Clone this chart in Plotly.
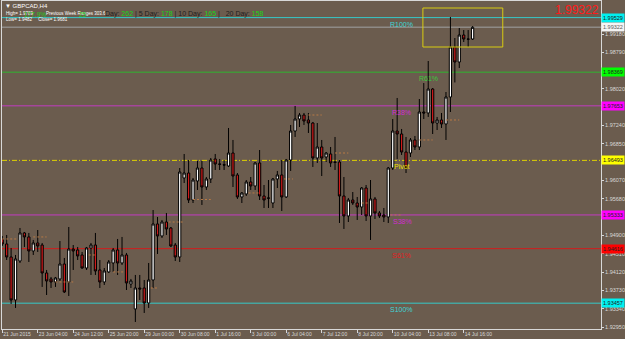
import plotly.graph_objects as go

# ---------------- data ----------------
bar_index = list(range(107))
open_ = [1.94822,1.94716,1.94439,1.93525,1.94354,1.94950,1.94865,1.94567,1.94737,1.94694,
         1.94099,1.93972,1.93908,1.93972,1.94290,1.93908,1.94609,1.94588,1.94482,1.94205,
         1.94631,1.94694,1.94163,1.93908,1.94121,1.94312,1.94588,1.94312,1.94482,1.93865,
         1.93334,1.93780,1.93780,1.93461,1.93950,1.95141,1.94886,1.95183,1.95056,1.94694,
         1.94439,1.96119,1.96225,1.95651,1.96055,1.96331,1.95927,1.96098,1.96523,1.96416,
         1.96400,1.96374,1.96650,1.96183,1.95715,1.95779,1.96034,1.95949,1.96438,1.95736,
         1.95694,1.95587,1.96098,1.96183,1.95715,1.96501,1.97118,1.97373,1.97458,1.97352,
         1.97288,1.96544,1.96778,1.96565,1.96629,1.96459,1.96459,1.95736,1.95311,1.95651,
         1.95587,1.95502,1.95906,1.95311,1.95673,1.95375,1.95332,1.95290,1.96331,1.97118,
         1.97054,1.96671,1.96650,1.96927,1.96778,1.97522,1.97501,1.98011,1.97288,1.97352,
         1.97267,1.97841,1.98904,1.98585,1.99159,1.99074,1.99074]
high = [1.94886,1.94907,1.94631,1.94482,1.95056,1.94971,1.94950,1.94801,1.95013,1.94737,
        1.94163,1.94014,1.94014,1.94779,1.94418,1.95077,1.94694,1.94652,1.94546,1.94652,
        1.94737,1.94950,1.94375,1.94205,1.94375,1.94631,1.94822,1.94865,1.94525,1.93972,
        1.94057,1.94057,1.93950,1.94312,1.95438,1.95290,1.95226,1.95375,1.95077,1.94737,
        1.96331,1.96629,1.96501,1.96119,1.96480,1.96480,1.96140,1.96544,1.96629,1.96523,
        1.96501,1.97182,1.96927,1.96225,1.95821,1.96076,1.96140,1.96459,1.96714,1.95970,
        1.96076,1.96119,1.96268,1.96501,1.96523,1.97246,1.97650,1.97501,1.97501,1.97501,
        1.97310,1.97288,1.96927,1.96671,1.96778,1.96991,1.96501,1.96140,1.95694,1.95821,
        1.95715,1.95927,1.95970,1.96076,1.95715,1.95417,1.95481,1.96353,1.97373,1.97820,
        1.97161,1.96991,1.96969,1.97012,1.97798,1.98138,1.98606,1.98032,1.97416,1.97501,
        1.97947,1.99542,1.99095,1.99308,1.99265,1.99265,1.99350]
low = [1.94673,1.94375,1.93440,1.93355,1.94312,1.94652,1.94333,1.94482,1.94546,1.93802,
       1.93631,1.93780,1.93802,1.93929,1.93674,1.93610,1.94163,1.94375,1.94190,1.94163,
       1.94057,1.94057,1.93780,1.93844,1.94099,1.94121,1.94057,1.94269,1.93737,1.93780,
       1.93057,1.93525,1.93249,1.93355,1.93780,1.94503,1.94843,1.94907,1.94652,1.94354,
       1.94333,1.96012,1.95587,1.95587,1.95864,1.95545,1.95864,1.96012,1.96289,1.96289,
       1.96289,1.96353,1.95927,1.95673,1.95587,1.95736,1.95864,1.95864,1.95651,1.95481,
       1.95481,1.95481,1.95906,1.95417,1.95694,1.96268,1.96991,1.97203,1.97246,1.97076,
       1.96353,1.96438,1.96161,1.96459,1.96353,1.96289,1.95162,1.95035,1.95183,1.95545,
       1.95226,1.95332,1.95205,1.94801,1.95247,1.95268,1.95183,1.95162,1.96289,1.96523,
       1.96608,1.96225,1.96565,1.96714,1.96714,1.97373,1.97416,1.97054,1.97139,1.97182,
       1.96927,1.97522,1.98150,1.98457,1.99010,1.98904,1.99053]
close = [1.94716,1.94439,1.93525,1.94397,1.94950,1.94865,1.94567,1.94737,1.94673,1.94099,
         1.93929,1.93908,1.93993,1.94290,1.93695,1.94609,1.94567,1.94461,1.94205,1.94631,
         1.94694,1.94142,1.93908,1.94142,1.94333,1.94588,1.94312,1.94482,1.93887,1.93929,
         1.93780,1.93759,1.93461,1.93950,1.95141,1.94886,1.95183,1.95035,1.94673,1.94439,
         1.96246,1.96225,1.95651,1.96076,1.96331,1.95927,1.96098,1.96501,1.96416,1.96410,
         1.96395,1.96650,1.96161,1.95715,1.95800,1.96034,1.95949,1.96438,1.95736,1.95651,
         1.95690,1.96098,1.96183,1.95715,1.96501,1.97118,1.97373,1.97458,1.97331,1.97288,
         1.96544,1.96778,1.96544,1.96650,1.96438,1.96450,1.95736,1.95311,1.95651,1.95587,
         1.95502,1.95906,1.95311,1.95673,1.95375,1.95311,1.95290,1.96331,1.97118,1.97054,
         1.96671,1.96331,1.96927,1.96778,1.97522,1.97501,1.98011,1.97288,1.97352,1.97267,
         1.97841,1.98904,1.98585,1.99159,1.99074,1.99070,1.99322]

tick_index = [0, 8, 16, 24, 32, 40, 48, 56, 64, 72, 80, 88, 96, 104]
tick_labels = ["21 Jun 2015", "23 Jun 04:00", "24 Jun 12:00", "25 Jun 20:00", "29 Jun 00:00",
               "30 Jun 08:00", "1 Jul 16:00", "3 Jul 00:00", "6 Jul 04:00", "7 Jul 12:00",
               "8 Jul 20:00", "10 Jul 04:00", "13 Jul 08:00", "14 Jul 16:00"]
# price scale labels that are not hidden under the coloured level tags
price_ticks = [1.92950, 1.93340, 1.93730, 1.94120, 1.94510, 1.94900, 1.95680,
               1.96070, 1.96850, 1.97240, 1.98020, 1.98790, 1.99180]

level_names = ["R100%", "R61%", "R38%", "Pivot", "S38%", "S61%", "S100%"]
level_values = [1.99529, 1.98369, 1.97653, 1.96493, 1.95333, 1.94616, 1.93457]
level_colors = ["#35c8c8", "#2fb52f", "#c23cc2", "#e0d200", "#c23cc2", "#d21c1c", "#35c8c8"]
level_tag_colors = ["#00f0f0", "#00ff00", "#ff00ff", "#ffff00", "#ff00ff", "#ff0000", "#00f0f0"]

current_price = 1.99322

# short dotted indicator segments: start index, end index, price
seg_start = [0, 7, 12, 19.5, 25, 33.5, 37.5, 43, 55.5, 63.5, 69, 75, 81, 87.5, 94, 100]
seg_end = [3.5, 10, 16, 21, 27.5, 35, 41, 47, 58, 65.5, 72, 78, 82.5, 90, 97, 103]
seg_price = [1.94822, 1.94865, 1.93908, 1.94482, 1.94121, 1.93780, 1.95183, 1.95662,
             1.95800, 1.96098, 1.97458, 1.96650, 1.95587, 1.95332, 1.96927, 1.97352]

# yellow drawn box: index range and price range
box_index = [94.8, 112.8]
box_price = [1.98904, 1.99733]

# ---------------- figure ----------------
W, H = 625, 339
L, R, T, B = 2, 601, 1, 329
BG = "#6b5c4e"
FG = "#d8d8d8"
FONT = "Liberation Sans, Arial, sans-serif"

def px(x):
    return (x - L) / (R - L)

def py(y):
    return (B - y) / (B - T)

fig = go.Figure()

# dotted segments
sx, sy = [], []
for a, b, p in zip(seg_start, seg_end, seg_price):
    sx += [a, b, None]
    sy += [p, p, None]
fig.add_trace(go.Scatter(x=sx, y=sy, mode="lines",
                         line=dict(color="#b97a45", width=1, dash="2px,2px"),
                         hoverinfo="skip", showlegend=False))

fig.add_trace(go.Candlestick(
    x=bar_index, open=open_, high=high, low=low, close=close,
    increasing=dict(fillcolor="#ffffff", line=dict(color="#000000", width=1)),
    decreasing=dict(fillcolor="#cf1a1a", line=dict(color="#000000", width=1)),
    whiskerwidth=0, showlegend=False))

shapes = []
annotations = []
# level lines
for name, v, c, tc in zip(level_names, level_values, level_colors, level_tag_colors):
    dash = "5px,2px,1px,2px" if name == "Pivot" else "solid"
    shapes.append(dict(type="line", xref="paper", x0=0, x1=1, yref="y", y0=v, y1=v,
                       line=dict(color=c, width=1, dash=dash), layer="below"))
    annotations.append(dict(xref="paper", x=1, xanchor="left", yref="y", y=v,
                            text=f"{v:.5f}", showarrow=False, bgcolor=tc,
                            font=dict(family=FONT, size=5.5, color="#202020"),
                            borderpad=1, xshift=0))

label_px = {"R100%": 388, "R61%": 417, "R38%": 390, "Pivot": 392, "S38%": 391, "S61%": 390, "S100%": 388}
label_col = {"R100%": "#3ed6d6", "R61%": "#3cc83c", "R38%": "#d22ad2", "Pivot": "#f0e000",
             "S38%": "#d22ad2", "S61%": "#e02020", "S100%": "#3ed6d6"}
for name, v in zip(level_names, level_values):
    annotations.append(dict(xref="paper", x=px(label_px[name]), xanchor="left",
                            yref="y", y=v, yanchor="top", yshift=-1,
                            text=name, showarrow=False,
                            font=dict(family=FONT, size=7, color=label_col[name])))

# current price line and tag
shapes.append(dict(type="line", xref="paper", x0=0, x1=1, yref="y", y0=current_price, y1=current_price,
                   line=dict(color="#8e8a86", width=1.5), layer="below"))
annotations.append(dict(xref="paper", x=1, xanchor="left", yref="y", y=current_price,
                        text=f"{current_price:.5f}", showarrow=False, bgcolor="#f4f4f4",
                        font=dict(family=FONT, size=5.5, color="#606060"), borderpad=1))

# yellow box
shapes.append(dict(type="rect", xref="x", yref="y", x0=box_index[0], x1=box_index[1],
                   y0=box_price[0], y1=box_price[1], line=dict(color="#d8cc10", width=1)))

# big red price text
annotations.append(dict(xref="paper", x=px(601), xanchor="right", yref="paper", y=py(10),
                        yanchor="middle", text=f"{current_price:.5f}", showarrow=False,
                        font=dict(family=FONT, size=12, color="#ff1a1a")))

# top-left info text
def txt(x, y, s, size, color):
    annotations.append(dict(xref="paper", x=px(x), xanchor="left", yref="paper", y=py(y),
                            yanchor="middle", text=s, showarrow=False,
                            font=dict(family=FONT, size=size, color=color)))

txt(3, 6, "▼ GBPCAD,H4", 6, "#ffffff")
txt(4, 13.5, "High= 1.9789", 4.5, "#ffffff")
txt(22, 14, "177.9%", 6.5, "#22cc22")
txt(44, 13.5, "Previous Week Ranges 303.6", 4.5, "#ffffff")
txt(77, 14, "25", 6.5, "#22cc22")
G, D = "#16d616", "#1e1e1e"
rich = (f"<span style='color:{D}'>Day: </span><span style='color:{G}'>262</span>"
        f"<span style='color:{D}'> | 5 Day: </span><span style='color:{G}'>178</span>"
        f"<span style='color:{D}'> | 10 Day: </span><span style='color:{G}'>165</span>"
        f"<span style='color:{D}'> |   20 Day: </span><span style='color:{G}'>158</span>")
txt(103, 14, rich, 7, D)
txt(4, 19.5, "Low= 1.9482&nbsp;&nbsp;&nbsp;&nbsp;&nbsp;Close= 1.9681", 4.5, "#ffffff")

x0 = -0.05
x1 = x0 + (R - L) / 4.4375

fig.update_layout(
    width=W, height=H, autosize=False,
    margin=dict(l=L, r=W - R, t=T, b=H - B, pad=0),
    paper_bgcolor=BG, plot_bgcolor=BG,
    showlegend=False, boxgap=0.28,
    shapes=shapes, annotations=annotations,
    font=dict(family=FONT, color=FG, size=6),
    xaxis=dict(range=[x0, x1], tickmode="array", tickvals=tick_index, ticktext=tick_labels,
               ticks="outside", ticklen=3, tickcolor=FG, tickwidth=1, tickangle=0,
               ticklabelposition="outside right", automargin=False,
               tickfont=dict(family=FONT, size=5, color=FG),
               showgrid=False, zeroline=False, showline=True, linecolor=FG, linewidth=1,
               mirror=True, rangeslider=dict(visible=False), fixedrange=True),
    yaxis=dict(range=[1.92908, 1.99882], side="right", tickmode="array",
               tickvals=price_ticks, ticktext=[f"{v:.5f}" for v in price_ticks],
               ticks="outside", ticklen=2, tickcolor=FG, tickwidth=1, automargin=False,
               tickfont=dict(family=FONT, size=5.5, color=FG),
               showgrid=False, zeroline=False, showline=True, linecolor=FG, linewidth=1,
               mirror=True, fixedrange=True),
)

fig.write_html("out.html")
